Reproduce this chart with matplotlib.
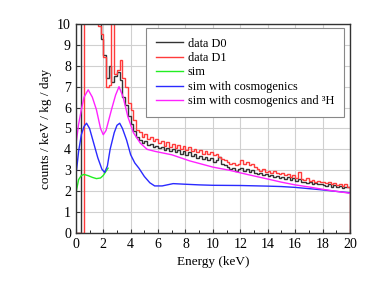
import numpy as np
import matplotlib
matplotlib.use('Agg')
import matplotlib.pyplot as plt

plt.rcParams['font.family'] = ['Liberation Serif', 'DejaVu Serif']

# binned data, 0.2 keV bins from 0 to 20 keV
bin_edges = np.round(np.arange(0, 20.01, 0.2), 2)

data_d0 = [0, 0, 15, 15, 15, 15, 15, 15, 15, 9.3,
           8.5, 7.4, 8.0, 7.2, 7.5, 7.7, 7.3, 6.5, 6.1, 5.6,
           5.2, 4.9, 4.6, 4.45, 4.3, 4.4, 4.2, 4.28, 4.12, 4.18,
           4.05, 4.12, 3.95, 4.08, 3.90, 4.02, 3.85, 3.98, 3.80, 3.90,
           3.75, 3.85, 3.68, 3.78, 3.60, 3.70, 3.55, 3.62, 3.48, 3.58,
           3.40, 3.50, 3.65, 3.30, 3.25, 3.15, 3.05, 3.10, 2.98, 3.05,
           3.10, 2.95, 3.05, 2.92, 3.00, 2.88, 2.80, 2.85, 2.75, 2.82,
           2.72, 2.78, 2.68, 2.72, 2.65, 2.70, 2.60, 2.66, 2.55, 2.62,
           2.50, 2.58, 2.42, 2.45, 2.38, 2.42, 2.35, 2.40, 2.32, 2.36,
           2.30, 2.25, 2.32, 2.22, 2.28, 2.18, 2.25, 2.15, 2.22, 2.18]

data_d1 = [0, 0, 0, 15, 15, 15, 15, 15, 9.9, 9.5,
           8.4, 7.0, 7.1, 11.0, 7.6, 7.8, 8.3, 7.4, 7.0, 6.2,
           5.9, 5.4, 4.95, 4.85, 4.6, 4.72, 4.5, 4.58, 4.38, 4.48,
           4.30, 4.42, 4.18, 4.36, 4.12, 4.28, 4.05, 4.20, 4.02, 4.15,
           3.95, 4.10, 3.90, 4.02, 3.85, 3.98, 3.80, 3.92, 3.78, 3.85,
           3.72, 3.80, 3.62, 3.55, 3.48, 3.40, 3.30, 3.35, 3.25, 3.30,
           3.50, 3.32, 3.40, 3.25, 3.30, 3.15, 3.05, 2.98, 3.05, 2.92,
           2.98, 2.88, 2.95, 2.85, 2.80, 2.88, 2.75, 2.80, 2.70, 2.76,
           2.65, 2.92, 2.60, 2.55, 2.62, 2.50, 2.55, 2.45, 2.50, 2.42,
           2.45, 2.38, 2.42, 2.32, 2.40, 2.28, 2.35, 2.25, 2.32, 2.22]

# simulated spectra
sim_e = [0.05, 0.2, 0.4, 0.6, 0.9, 1.2, 1.5, 1.8, 2.0, 2.2, 2.35]
sim_v = [2.05, 2.55, 2.75, 2.8, 2.74, 2.66, 2.6, 2.63, 2.75, 2.95, 3.1]

cosmo_e = [0.05, 0.2, 0.4, 0.6, 0.78, 1.0, 1.3, 1.6, 1.9, 2.1, 2.3, 2.5, 2.8,
           3.0, 3.2, 3.4, 3.7, 4.0, 4.3, 4.6, 5.0, 5.4, 5.75, 6.3, 7.1, 8.0,
           9.0, 10.0, 12.0, 14.0, 15.0, 16.0, 17.0, 18.0, 19.0, 20.0]
cosmo_v = [3.0, 3.9, 4.7, 5.1, 5.25, 5.0, 4.3, 3.6, 3.05, 2.9, 3.2, 4.0, 4.8,
           5.15, 5.25, 5.0, 4.45, 3.74, 3.35, 3.1, 2.7, 2.4, 2.25, 2.25, 2.36, 2.33,
           2.3, 2.28, 2.27, 2.24, 2.22, 2.18, 2.12, 2.06, 1.99, 1.92]

tritium_e = [0.05, 0.2, 0.4, 0.6, 0.9, 1.2, 1.5, 1.8, 2.0, 2.2, 2.6, 2.9, 3.15,
             3.45, 3.8, 4.2, 4.7, 5.2, 5.8, 7.0, 8.3, 10.0, 11.2, 12.5, 14.2,
             15.0, 16.0, 17.0, 18.0, 19.0, 20.0]
tritium_v = [4.45, 5.2, 5.9, 6.5, 6.85, 6.5, 5.9, 5.0, 4.7, 4.9, 5.9, 6.6, 7.0,
             6.5, 5.55, 4.8, 4.3, 4.0, 3.9, 3.74, 3.45, 3.15, 3.0, 2.8, 2.55,
             2.43, 2.3, 2.2, 2.09, 1.99, 1.9]

fig = plt.figure(figsize=(3.91, 2.89), dpi=100)
ax = fig.add_axes([0.194, 0.194, 0.701, 0.723])

ax.stairs(data_d0, bin_edges, color='#333333', lw=1.0, label='data D0')
ax.stairs(data_d1, bin_edges, color='#ff3b3b', lw=1.0, label='data D1')
ax.plot(sim_e, sim_v, color='#22ee22', lw=1.0, label='sim')
ax.plot(cosmo_e, cosmo_v, color='#2a2aff', lw=1.0, label='sim with cosmogenics')
ax.plot(tritium_e, tritium_v, color='#ff22ff', lw=1.0,
        label='sim with cosmogenics and ³H')

ax.set_xlim(0, 20)
ax.set_ylim(0, 10)
ax.set_xticks(np.arange(0, 21, 2))
ax.set_xticks(np.arange(1, 20, 2), minor=True)
ax.set_yticks(np.arange(0, 11, 1))
ax.grid(True, color='#d0d0d0', lw=0.8)
ax.set_axisbelow(True)
ax.tick_params(direction='in', length=3, labelsize=10, color='#333333')
ax.tick_params(which='minor', direction='in', length=2)
for s in ax.spines.values():
    s.set_color('#333333')
    s.set_linewidth(1.0)

ax.set_xlabel('Energy (keV)', fontsize=9.5)
ax.set_ylabel('counts / keV / kg / day', fontsize=9.5)

leg = ax.legend(loc='upper right', bbox_to_anchor=(0.978, 0.982), fontsize=8.8,
                fancybox=False, edgecolor='#888888', framealpha=1,
                labelspacing=0.2, handlelength=2.2, handletextpad=0.4,
                borderpad=0.8, borderaxespad=0)
leg.get_frame().set_linewidth(0.8)

fig.savefig('out.png', dpi=100)
